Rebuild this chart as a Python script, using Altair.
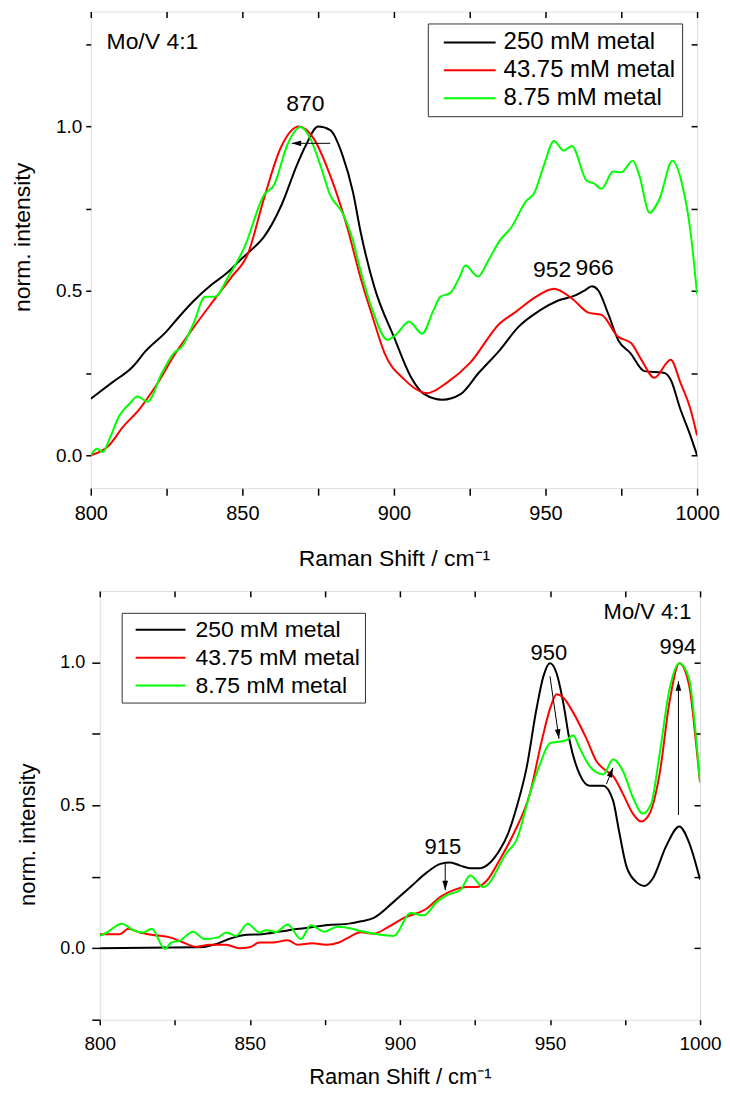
import altair as alt
import pandas as pd

FONT = "Liberation Sans"
SERIES = ["250 mM metal", "43.75 mM metal", "8.75 mM metal"]
COLORS = ["#000000", "#ff0000", "#00ff00"]
X_TICKS = [800, 825, 850, 875, 900, 925, 950, 975, 1000]

# ---------------- top panel data ----------------
top_black_x = [800, 807, 814, 818, 825, 829, 834, 840, 845, 850, 853, 857, 863, 868, 871, 875, 879, 883,
               886.5, 889, 893.6, 900, 905.5, 910, 916, 922, 928, 935, 941, 948, 954, 960, 963, 965.3,
               967.4, 970.7, 974, 978, 982.6, 989, 991.3, 994.5, 997.8, 1000]
top_black_y = [0.172, 0.221, 0.271, 0.316, 0.377, 0.42, 0.47, 0.52, 0.555, 0.60, 0.625, 0.663, 0.763, 0.883,
               0.944, 1.0, 0.989, 0.914, 0.80, 0.68, 0.51, 0.36, 0.24, 0.186, 0.169, 0.186, 0.251, 0.321,
               0.39, 0.44, 0.47, 0.487, 0.502, 0.514, 0.502, 0.43, 0.35, 0.311, 0.256, 0.251, 0.23, 0.14,
               0.06, 0.0]
top_red_x = [800, 806, 810.5, 816, 821.4, 828, 833.3, 839.8, 846.4, 851.8, 857.2, 862.6, 868.6, 873.5,
             878.9, 884.4, 889.3, 893, 896.9, 903.4, 911, 917.5, 925.1, 934.9, 940.3, 946.8, 952.8, 958.7,
             964.2, 968.5, 973.9, 978.3, 981.6, 985.9, 991.3, 994.5, 997.8, 1000]
top_red_y = [0.0, 0.03, 0.085, 0.14, 0.21, 0.311, 0.381, 0.462, 0.542, 0.612, 0.783, 0.934, 1.0, 0.964,
             0.853, 0.70, 0.53, 0.42, 0.311, 0.231, 0.189, 0.221, 0.281, 0.401, 0.437, 0.482, 0.507, 0.477,
             0.434, 0.427, 0.361, 0.341, 0.291, 0.236, 0.291, 0.221, 0.141, 0.06]
top_green_x = [800, 802, 804, 806.2, 809.4, 812.7, 815.4, 818.7, 823.5, 827.4, 830.1, 833.9, 837.7, 840.9,
               845.3, 850.7, 857.2, 860.5, 864.8, 869.2, 872.4, 875.7, 878.9, 883.3, 886.5, 888.7, 893,
               897.9, 901, 905, 909.3, 913, 915.3, 918.6, 921.8, 923.5, 927.8, 931, 934.9, 938.7, 943.6,
               946.3, 949.5, 952.8, 956, 958.7, 963.6, 965.8, 968.5, 972.3, 975, 978.8, 981, 984.3, 987.5,
               991.9, 995.1, 997.8, 1000]
top_green_y = [0.0, 0.02, 0.01, 0.05, 0.12, 0.156, 0.179, 0.163, 0.251, 0.311, 0.331, 0.401, 0.482, 0.482,
               0.542, 0.633, 0.793, 0.823, 0.944, 0.999, 0.964, 0.883, 0.793, 0.733, 0.653, 0.572, 0.44,
               0.351, 0.37, 0.407, 0.37, 0.44, 0.482, 0.494, 0.545, 0.577, 0.544, 0.59, 0.653, 0.693, 0.773,
               0.798, 0.883, 0.956, 0.927, 0.941, 0.835, 0.828, 0.811, 0.863, 0.861, 0.896, 0.85, 0.738,
               0.778, 0.896, 0.823, 0.683, 0.49]

top_label_text = ["870", "952", "966"]
top_label_x = [870.8, 952.2, 966.2]
top_label_y = [1.048, 0.542, 0.548]
top_note_text = ["Mo/V 4:1"]
top_note_x = [805.2]
top_note_y = [1.235]
top_arrow_x0 = [879.0]
top_arrow_x1 = [866.3]
top_arrow_y0 = [0.949]
top_arrow_y1 = [0.949]
top_arrow_angle = [270]

# ---------------- bottom panel data ----------------
bot_black_x = [800, 832, 839, 843, 849, 854, 860, 865, 871, 876, 883, 887, 891.3, 898, 903.5, 909.1, 913.5,
               916.8, 920.1, 923.4, 926.7, 930.1, 933.4, 936, 938.9, 942.2, 945.5, 947.8, 950, 952.2, 954.4,
               956.6, 959.9, 963.2, 967.7, 971, 973, 975.4, 978.7, 981.5, 984.2, 988.7, 993.1, 996.4, 1000]
bot_black_y = [0.0, 0.003, 0.015, 0.032, 0.047, 0.049, 0.058, 0.066, 0.074, 0.081, 0.086, 0.094, 0.106,
               0.163, 0.214, 0.266, 0.295, 0.30, 0.289, 0.28, 0.28, 0.30, 0.346, 0.40, 0.494, 0.631, 0.837,
               0.951, 0.997, 0.962, 0.86, 0.723, 0.608, 0.568, 0.568, 0.517, 0.41, 0.289, 0.232, 0.218,
               0.243, 0.357, 0.426, 0.368, 0.24]
bot_red_x = [800, 806.7, 809.5, 813.4, 817.8, 823.4, 827.8, 832.2, 836.6, 842.1, 846.5, 849.9, 853.2, 857.6,
             862.6, 865.9, 870.9, 875.3, 879.7, 883, 886.9, 891.3, 895.8, 901.3, 909.1, 913.5, 917.9, 922.3,
             925.6, 929, 933.4, 938, 943.3, 947.2, 950, 952.2, 954.4, 957.7, 962.1, 965.5, 968.8, 971, 974.3,
             977.6, 980.4, 983.2, 986.5, 989.8, 993.1, 996.4, 998.6, 1000]
bot_red_y = [0.049, 0.049, 0.068, 0.055, 0.046, 0.038, 0.02, 0.005, 0.012, 0.012, 0.0, 0.003, 0.02, 0.02,
             0.028, 0.012, 0.017, 0.012, 0.02, 0.038, 0.056, 0.051, 0.072, 0.106, 0.14, 0.18, 0.203, 0.214,
             0.214, 0.237, 0.312, 0.403, 0.54, 0.723, 0.837, 0.888, 0.877, 0.825, 0.734, 0.654, 0.62, 0.603,
             0.54, 0.471, 0.443, 0.471, 0.608, 0.86, 0.997, 0.917, 0.723, 0.58]
bot_green_x = [800, 802.4, 807.3, 811.2, 814.5, 817.3, 821.7, 823.9, 826.6, 831.1, 834.9, 839.4, 842.1,
               845.4, 849.3, 853.2, 855.4, 858.7, 862.6, 867, 870.3, 874.8, 879.2, 884.2, 886.9, 892.5, 898,
               903.5, 907.9, 912.4, 915.7, 920.1, 923.4, 927.8, 935.6, 938.9, 943.3, 946.6, 950, 953.3, 955.5,
               957.7, 959.9, 963.2, 967.7, 971, 974.3, 977.6, 980.9, 983.7, 986.5, 989.8, 993.1, 996.4, 998.6,
               1000]
bot_green_y = [0.043, 0.055, 0.086, 0.063, 0.055, 0.068, -0.002, 0.02, 0.026, 0.058, 0.032, 0.038, 0.055,
               0.043, 0.086, 0.055, 0.063, 0.057, 0.083, 0.032, 0.080, 0.058, 0.075, 0.068, 0.06, 0.049, 0.043,
               0.123, 0.115, 0.163, 0.186, 0.203, 0.254, 0.214, 0.334, 0.38, 0.54, 0.642, 0.717, 0.723, 0.728,
               0.745, 0.70, 0.637, 0.608, 0.66, 0.62, 0.528, 0.471, 0.505, 0.677, 0.905, 0.997, 0.94, 0.745,
               0.58]

bot_label_text = ["950", "994", "915"]
bot_label_x = [949.6, 992.6, 914.3]
bot_label_y = [1.009, 1.03, 0.329]
bot_note_text = ["Mo/V 4:1"]
bot_note_x = [997.1]
bot_note_y = [1.151]
bot_arrow_x0 = [950.0, 968.8, 992.8, 915.1]
bot_arrow_x1 = [953.0, 971.0, 992.8, 915.1]
bot_arrow_y0 = [0.951, 0.574, 0.466, 0.295]
bot_arrow_y1 = [0.733, 0.631, 0.934, 0.203]
bot_arrow_angle = [172, 22, 0, 180]

HEAD = "M0,0L0.6,2L-0.6,2Z"


def series_frame(xs, ys, name):
    return pd.DataFrame({"x": xs, "y": ys, "series": name})


def panel(lines, labels, note, note_align, arrows, xdom, ydom, yvals, yvals_r, w, h, st):
    xs = alt.Scale(domain=xdom, nice=False, zero=False)
    ys = alt.Scale(domain=ydom, nice=False, zero=False)
    color_scale = alt.Scale(domain=SERIES, range=COLORS)
    legend = alt.Legend(
        title=None, orient="none", legendX=st["lx"], legendY=st["ly"], direction="vertical",
        strokeColor="#333333", fillColor="white", padding=st["lpad"], rowPadding=st["rpad"],
        symbolType=st["path"], symbolSize=st["ssize"], symbolStrokeWidth=2,
        symbolOffset=st["soff"], labelOffset=st["loff"], labelFont=FONT,
        labelFontSize=st["lfs"], labelColor="black", labelExpr=st["lexpr"],
        labelLimit=400)
    x_bottom = alt.Axis(
        values=X_TICKS, labelExpr="datum.value % 50 == 0 ? datum.label : ''", format="d",
        title="Raman Shift / cm\u207b\u00b9", domain=False, tickSize=st["xtick"], tickWidth=1.5,
        tickColor="black", labelFont=FONT, labelFontSize=st["xlfs"], labelColor="black",
        labelPadding=st["xlpad"], labelFlush=False, labelOverlap=False, titleFont=FONT,
        titleFontSize=st["tfs"], titleFontWeight="normal", titleColor="black",
        titlePadding=st["xtpad"], grid=False)
    y_left = alt.Axis(
        values=yvals, labelExpr="datum.value % 0.5 == 0 ? format(datum.value, '.1f') : ''",
        title="norm. intensity", domain=False, tickSize=st["ytick"], tickWidth=1.5,
        tickColor="black", labelFont=FONT, labelFontSize=st["ylfs"], labelColor="black",
        labelPadding=st["ylpad"], labelFlush=False, labelOverlap=False, titleFont=FONT,
        titleFontSize=st["tfs"], titleFontWeight="normal", titleColor="black",
        titlePadding=st["ytpad"], titleY=st["ty"], grid=False)
    x_top = alt.Axis(orient="top", values=X_TICKS, labels=False, domain=False, tickSize=6,
                     tickWidth=1.5, tickColor="black", offset=-6, title=None, grid=False)
    y_right = alt.Axis(orient="right", values=yvals_r, labels=False, domain=False, tickSize=6,
                       tickWidth=1.5, tickColor="black", offset=-6, title=None, grid=False)

    layers = []
    for i, df in enumerate(lines):
        layers.append(
            alt.Chart(df).mark_line(strokeWidth=2, interpolate="monotone", clip=True).encode(
                x=alt.X("x:Q", scale=xs, axis=x_bottom if i == 0 else None),
                y=alt.Y("y:Q", scale=ys, axis=y_left if i == 0 else None),
                color=alt.Color("series:N", scale=color_scale, legend=legend),
            )
        )
    layers.append(
        alt.Chart(arrows).mark_rule(color="black", strokeWidth=1).encode(
            x=alt.X("x0:Q", scale=xs, axis=None), x2="x1:Q",
            y=alt.Y("y0:Q", scale=ys, axis=None), y2="y1:Q")
    )
    layers.append(
        alt.Chart(arrows).mark_point(shape=HEAD, filled=True, color="black", opacity=1,
                                     size=st["head"]).encode(
            x=alt.X("x1:Q", scale=xs, axis=None),
            y=alt.Y("y1:Q", scale=ys, axis=None),
            angle=alt.Angle("ang:Q", scale=None))
    )
    layers.append(
        alt.Chart(labels).mark_text(font=FONT, fontSize=st["pfs"], color="black", align="center",
                                    baseline="alphabetic").encode(
            x=alt.X("x:Q", scale=xs, axis=x_top),
            y=alt.Y("y:Q", scale=ys, axis=y_right),
            text="t:N")
    )
    layers.append(
        alt.Chart(note).mark_text(font=FONT, fontSize=st["nfs"], color="black", align=note_align,
                                  baseline="alphabetic").encode(
            x=alt.X("x:Q", scale=xs, axis=None),
            y=alt.Y("y:Q", scale=ys, axis=None),
            text="t:N")
    )
    return alt.layer(*layers).resolve_axis(x="independent", y="independent").properties(
        width=w, height=h)


top_lines = [series_frame(top_black_x, top_black_y, SERIES[0]),
             series_frame(top_red_x, top_red_y, SERIES[1]),
             series_frame(top_green_x, top_green_y, SERIES[2])]
bot_lines = [series_frame(bot_black_x, bot_black_y, SERIES[0]),
             series_frame(bot_red_x, bot_red_y, SERIES[1]),
             series_frame(bot_green_x, bot_green_y, SERIES[2])]

top_style = dict(lx=338, ly=12, lpad=6, rpad=3, lexpr="datum.label + '   '",
                 path="M-2.167,0L2.167,0", ssize=576, soff=23, loff=21, lfs=24,
                 xtick=7, xlfs=20, xlpad=8, tfs=23, xtpad=25, ytick=5, ylfs=19, ylpad=4, ytpad=21,
                 ty=226, head=90, pfs=23, nfs=23)
bot_style = dict(lx=22, ly=22, lpad=5, rpad=4, lexpr="datum.label + '     '",
                 path="M-2.273,0L2.273,0", ssize=484, soff=22, loff=23, lfs=23,
                 xtick=5, xlfs=19, xlpad=10, tfs=22, xtpad=13, ytick=8, ylfs=18, ylpad=7, ytpad=20,
                 ty=244, head=90, pfs=22, nfs=22)

top = panel(
    top_lines,
    pd.DataFrame({"x": top_label_x, "y": top_label_y, "t": top_label_text}),
    pd.DataFrame({"x": top_note_x, "y": top_note_y, "t": top_note_text}), "left",
    pd.DataFrame({"x0": top_arrow_x0, "x1": top_arrow_x1, "y0": top_arrow_y0, "y1": top_arrow_y1,
                  "ang": top_arrow_angle}),
    [800, 1000], [-0.1, 1.35], [0, 0.25, 0.5, 0.75, 1.0, 1.25], [0, 0.25, 0.5, 0.75, 1.0, 1.25],
    608, 478, top_style)

bottom = panel(
    bot_lines,
    pd.DataFrame({"x": bot_label_x, "y": bot_label_y, "t": bot_label_text}),
    pd.DataFrame({"x": bot_note_x, "y": bot_note_y, "t": bot_note_text}), "right",
    pd.DataFrame({"x0": bot_arrow_x0, "x1": bot_arrow_x1, "y0": bot_arrow_y0, "y1": bot_arrow_y1,
                  "ang": bot_arrow_angle}),
    [800, 1000], [-0.25, 1.25], [-0.25, 0, 0.25, 0.5, 0.75, 1.0], [0, 0.25, 0.5, 0.75, 1.0],
    602, 430, bot_style)


def spacer():
    return alt.Chart(pd.DataFrame({"s": [0]})).mark_point(
        opacity=0, size=0, strokeWidth=0, filled=True).properties(
        width=1, height=1, view=alt.ViewBackground(stroke="transparent"))


top_row = alt.hconcat(spacer(), top, spacing=0).resolve_legend(color="independent")
bottom_row = alt.hconcat(spacer(), bottom, spacing=5).resolve_legend(color="independent")

chart = alt.vconcat(
    top_row, bottom_row, spacing=17,
    padding={"left": 0, "top": 0, "right": 0, "bottom": 0},
).resolve_legend(color="independent").configure_view(
    stroke="black", strokeWidth=1.5
).configure(font=FONT, background="white")

chart.save("out.html", embed_options={"renderer": "svg", "actions": False})
